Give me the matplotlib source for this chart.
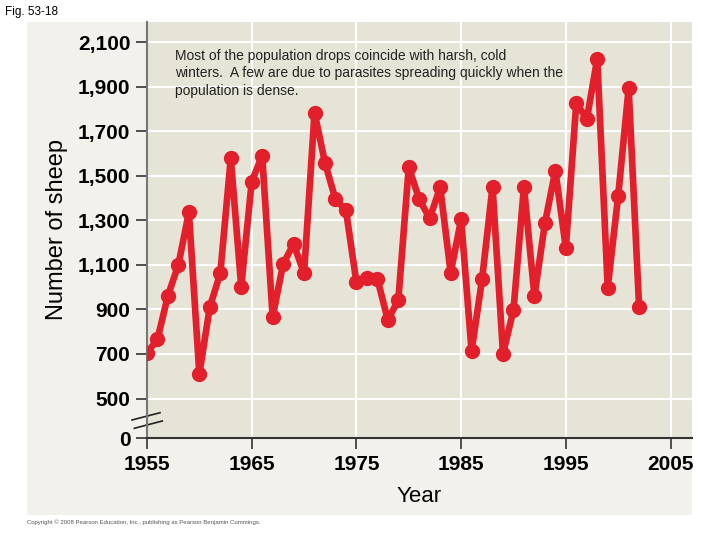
import matplotlib.pyplot as plt
from matplotlib.patches import Rectangle

# 数据：1955-2002 年羊群数量
years = list(range(1955, 2003))
sheep = [705, 766, 962, 1101, 1336, 610, 911, 1062, 1578, 1002,
         1473, 1590, 866, 1104, 1194, 1062, 1783, 1558, 1394, 1345,
         1022, 1040, 1037, 853, 942, 1539, 1394, 1309, 1448, 1065,
         1304, 713, 1035, 1451, 701, 897, 1451, 960, 1286, 1523,
         1176, 1828, 1753, 2025, 997, 1410, 1892, 910]

y_ticks = [323, 500, 700, 900, 1100, 1300, 1500, 1700, 1900, 2100]
y_labels = ['0', '500', '700', '900', '1,100', '1,300', '1,500', '1,700', '1,900', '2,100']
x_ticks = [1955, 1965, 1975, 1985, 1995, 2005]

note = ("Most of the population drops coincide with harsh, cold\n"
        "winters.  A few are due to parasites spreading quickly when the\n"
        "population is dense.")

plt.rcParams['font.family'] = ['Liberation Sans', 'DejaVu Sans']

fig = plt.figure(figsize=(7.2, 5.4), dpi=100)
fig.patch.set_facecolor('white')
# 外框浅色底
fig.patches.append(Rectangle((27 / 720, 1 - 515 / 540), 665 / 720, 493 / 540,
                             transform=fig.transFigure, facecolor='#f3f1eb',
                             edgecolor='none', zorder=-5))

ax = fig.add_axes([147 / 720, 1 - 438 / 540, 545 / 720, 416 / 540])
ax.set_facecolor('#e6e4d6')

ax.plot(years, sheep, color='#e21f2b', lw=4.8, marker='o', ms=10,
        solid_joinstyle='round', zorder=3)

ax.set_xlim(1955, 2007.05)
ax.set_ylim(323, 2190)

for yv in y_ticks[1:]:
    ax.axhline(yv, color='white', lw=1.5, zorder=1)
for xv in x_ticks[1:]:
    ax.axvline(xv, color='white', lw=1.5, zorder=1)

ax.set_yticks(y_ticks)
ax.set_yticklabels(y_labels, fontsize=15, fontweight='bold')
ax.set_xticks(x_ticks)
ax.set_xticklabels([str(x) for x in x_ticks], fontsize=15, fontweight='bold')
ax.tick_params(axis='both', direction='out', length=8, width=1.2, color='#333333', pad=4)

for s in ['top', 'right']:
    ax.spines[s].set_visible(False)
ax.spines['left'].set_color('#777777')
ax.spines['left'].set_linewidth(1.5)
ax.spines['bottom'].set_color('#333333')
ax.spines['bottom'].set_linewidth(1.5)

# 断轴符号
ax.plot([-0.0275, 0.0239], [0.0433, 0.0608], transform=ax.transAxes,
        color='#222222', lw=1.2, clip_on=False)
ax.plot([-0.0233, 0.0281], [0.0233, 0.0409], transform=ax.transAxes,
        color='#222222', lw=1.2, clip_on=False)

ax.set_ylabel('Number of sheep', fontsize=17, labelpad=7)
ax.set_xlabel('Year', fontsize=16, labelpad=9)

ax.text(175 / 720, 1 - 49 / 540, note, transform=fig.transFigure, fontsize=10,
        va='top', ha='left', linespacing=1.3, color='#222222')

fig.text(5 / 720, 1 - 12 / 540, 'Fig. 53-18', fontsize=8.5, va='center', ha='left')
fig.text(27 / 720, 1 - 522 / 540,
         'Copyright \u00a9 2008 Pearson Education, Inc., publishing as Pearson Benjamin Cummings.',
         fontsize=4.3, va='center', ha='left', color='#555555')

fig.savefig('out.png', dpi=100)
